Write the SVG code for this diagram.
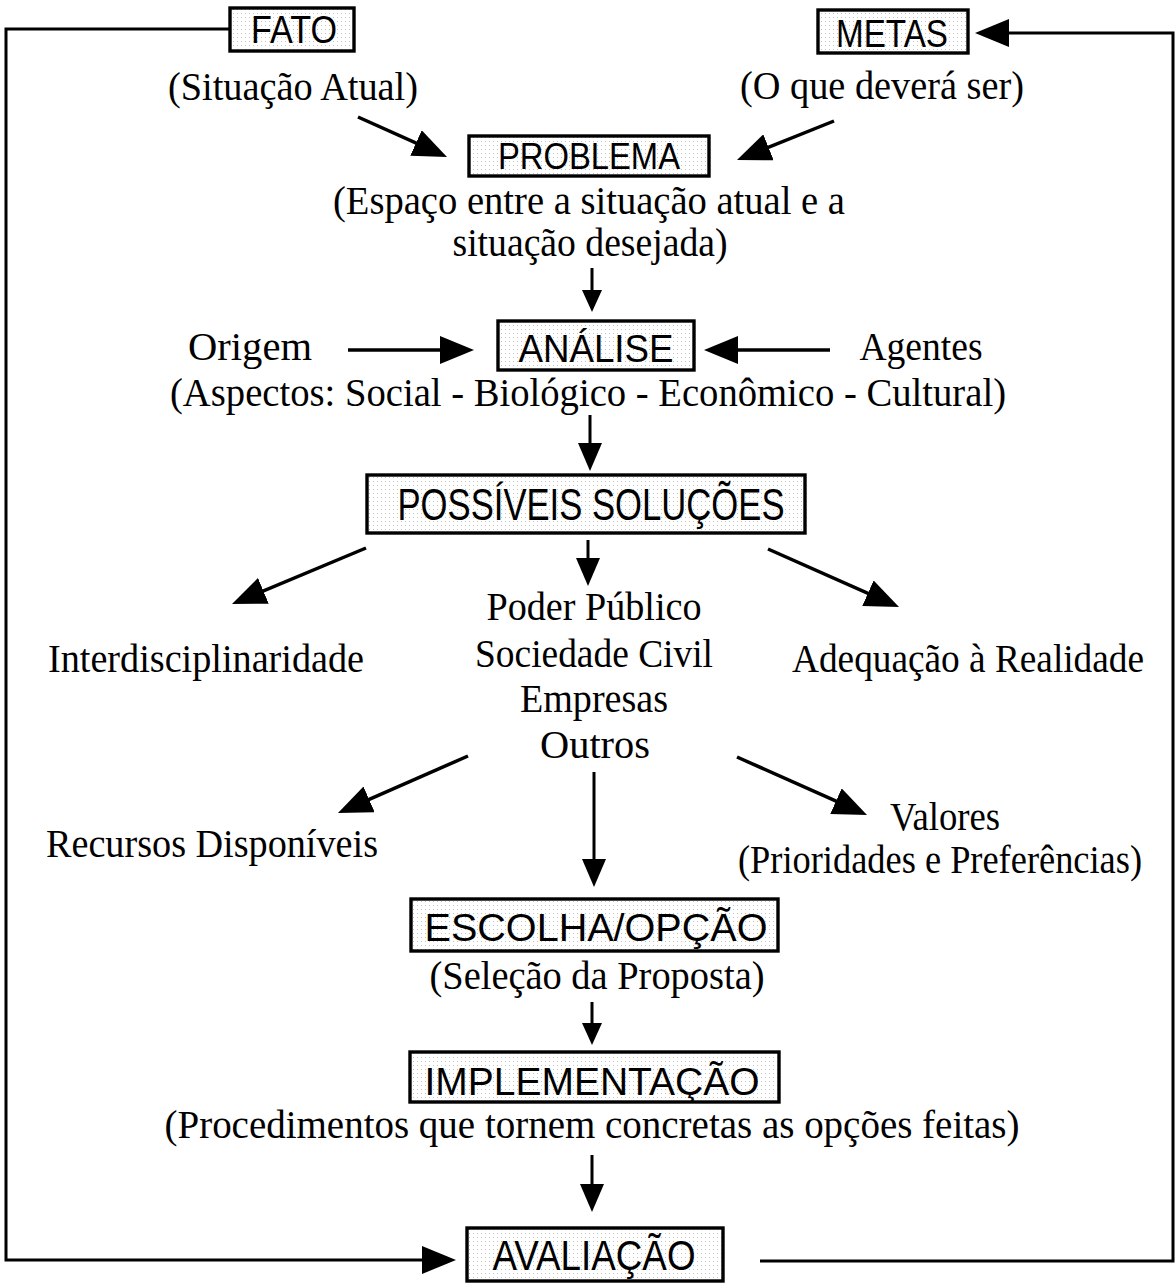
<svg xmlns="http://www.w3.org/2000/svg" width="1176" height="1283" viewBox="0 0 1176 1283">
<style>
.box{fill:url(#dots);stroke:#000;stroke-width:3.4}
.lbl{font-family:"Liberation Sans","DejaVu Sans",sans-serif;fill:#000;text-anchor:middle}
.t{font-family:"Liberation Serif","DejaVu Serif",serif;font-size:40px;fill:#000;text-anchor:middle}
.c{fill:none;stroke:#000;stroke-width:3.5}
.cb{fill:none;stroke:#000;stroke-width:3}
</style>
<defs>
<pattern id="dots" width="4" height="4" patternUnits="userSpaceOnUse"><rect width="4" height="4" fill="#fff"/><rect x="1" y="1" width="1" height="1" fill="#c4c4c4"/></pattern>
<marker id="big" viewBox="0 0 34 28" refX="26" refY="14" markerWidth="34" markerHeight="28" markerUnits="userSpaceOnUse" orient="auto"><path d="M0,0 L34,14 L0,28 z" fill="#000"/></marker>
<marker id="med" viewBox="0 0 28 24" refX="22" refY="12" markerWidth="28" markerHeight="24" markerUnits="userSpaceOnUse" orient="auto"><path d="M0,0 L28,12 L0,24 z" fill="#000"/></marker>
<marker id="small" viewBox="0 0 22 20" refX="17" refY="10" markerWidth="22" markerHeight="20" markerUnits="userSpaceOnUse" orient="auto"><path d="M0,0 L22,10 L0,20 z" fill="#000"/></marker>
</defs>
<rect width="1176" height="1283" fill="#fff"/>

<g id="connectors">
<path class="cb" d="M230,29 H6 V1260 H448" marker-end="url(#big)"/>
<path class="cb" d="M760,1261 H1173 V33 H983" marker-end="url(#big)"/>
<line class="c" x1="358" y1="117" x2="439.7" y2="153.7" marker-end="url(#big)"/>
<line class="c" x1="834" y1="121" x2="744.4" y2="157" marker-end="url(#big)"/>
<line class="cb" x1="592" y1="268" x2="592" y2="307" marker-end="url(#small)"/>
<line class="c" x1="348" y1="350" x2="466" y2="350" marker-end="url(#big)"/>
<line class="c" x1="830" y1="350" x2="712" y2="350" marker-end="url(#big)"/>
<line class="cb" x1="590" y1="415" x2="590" y2="465" marker-end="url(#med)"/>
<line class="c" x1="366" y1="548" x2="239.4" y2="600.9" marker-end="url(#big)"/>
<line class="cb" x1="588" y1="540" x2="588" y2="580" marker-end="url(#med)"/>
<line class="c" x1="768" y1="549" x2="891.7" y2="603.8" marker-end="url(#big)"/>
<line class="c" x1="468" y1="756" x2="345.3" y2="809.8" marker-end="url(#big)"/>
<line class="cb" x1="594" y1="772" x2="594" y2="881" marker-end="url(#med)"/>
<line class="c" x1="737" y1="757" x2="859.7" y2="811.7" marker-end="url(#big)"/>
<line class="cb" x1="592" y1="1002" x2="592" y2="1040" marker-end="url(#small)"/>
<line class="cb" x1="592" y1="1155" x2="592" y2="1206" marker-end="url(#med)"/>
</g>

<g id="fato">
<rect class="box" x="230" y="8" width="124" height="43"/>
<text class="lbl" x="294" y="43" font-size="38" textLength="86" lengthAdjust="spacingAndGlyphs">FATO</text>
<text class="t" x="293" y="100" textLength="250" lengthAdjust="spacingAndGlyphs">(Situação Atual)</text>
</g>

<g id="metas">
<rect class="box" x="818" y="10" width="150" height="43"/>
<text class="lbl" x="892" y="47" font-size="38" textLength="112" lengthAdjust="spacingAndGlyphs">METAS</text>
<text class="t" x="882" y="99" textLength="284" lengthAdjust="spacingAndGlyphs">(O que deverá ser)</text>
</g>

<g id="problema">
<rect class="box" x="469" y="136" width="240" height="40"/>
<text class="lbl" x="589" y="169" font-size="36" textLength="182" lengthAdjust="spacingAndGlyphs">PROBLEMA</text>
<text class="t" x="589" y="214" textLength="512" lengthAdjust="spacingAndGlyphs">(Espaço entre a situação atual e a</text>
<text class="t" x="590" y="256" textLength="275" lengthAdjust="spacingAndGlyphs">situação desejada)</text>
</g>

<g id="origem">
<text class="t" x="250" y="360" textLength="124" lengthAdjust="spacingAndGlyphs">Origem</text>
</g>

<g id="agentes">
<text class="t" x="921" y="360" textLength="123" lengthAdjust="spacingAndGlyphs">Agentes</text>
</g>

<g id="analise">
<rect class="box" x="498" y="321" width="196" height="49"/>
<text class="lbl" x="596" y="362" font-size="38" textLength="155" lengthAdjust="spacingAndGlyphs">ANÁLISE</text>
<text class="t" x="588" y="406" textLength="836" lengthAdjust="spacingAndGlyphs">(Aspectos: Social - Biológico - Econômico - Cultural)</text>
</g>

<g id="solucoes">
<rect class="box" x="367" y="475" width="438" height="58"/>
<text class="lbl" x="591" y="520" font-size="44" textLength="387" lengthAdjust="spacingAndGlyphs">POSSÍVEIS SOLUÇÕES</text>
</g>

<g id="atores">
<text class="t" x="594" y="620" textLength="215" lengthAdjust="spacingAndGlyphs">Poder Público</text>
<text class="t" x="594" y="667" textLength="238" lengthAdjust="spacingAndGlyphs">Sociedade Civil</text>
<text class="t" x="594" y="712" textLength="148" lengthAdjust="spacingAndGlyphs">Empresas</text>
<text class="t" x="595" y="758" textLength="110" lengthAdjust="spacingAndGlyphs">Outros</text>
</g>

<g id="interdisciplinaridade">
<text class="t" x="206" y="672" textLength="316" lengthAdjust="spacingAndGlyphs">Interdisciplinaridade</text>
</g>

<g id="adequacao">
<text class="t" x="968" y="672" textLength="352" lengthAdjust="spacingAndGlyphs">Adequação à Realidade</text>
</g>

<g id="recursos">
<text class="t" x="212" y="857" textLength="332" lengthAdjust="spacingAndGlyphs">Recursos Disponíveis</text>
</g>

<g id="valores">
<text class="t" x="945" y="830" textLength="110" lengthAdjust="spacingAndGlyphs">Valores</text>
<text class="t" x="940" y="873" font-size="37" textLength="404" lengthAdjust="spacingAndGlyphs">(Prioridades e Preferências)</text>
</g>

<g id="escolha">
<rect class="box" x="411" y="899" width="367" height="52"/>
<text class="lbl" x="596" y="941" font-size="39" textLength="343" lengthAdjust="spacingAndGlyphs">ESCOLHA/OPÇÃO</text>
<text class="t" x="597" y="989" textLength="335" lengthAdjust="spacingAndGlyphs">(Seleção da Proposta)</text>
</g>

<g id="implementacao">
<rect class="box" x="410" y="1052" width="369" height="50"/>
<text class="lbl" x="592" y="1095" font-size="38" textLength="335" lengthAdjust="spacingAndGlyphs">IMPLEMENTAÇÃO</text>
<text class="t" x="592" y="1138" textLength="855" lengthAdjust="spacingAndGlyphs">(Procedimentos que tornem concretas as opções feitas)</text>
</g>

<g id="avaliacao">
<rect class="box" x="467" y="1228" width="256" height="53"/>
<text class="lbl" x="594" y="1270" font-size="42" textLength="203" lengthAdjust="spacingAndGlyphs">AVALIAÇÃO</text>
</g>
</svg>
